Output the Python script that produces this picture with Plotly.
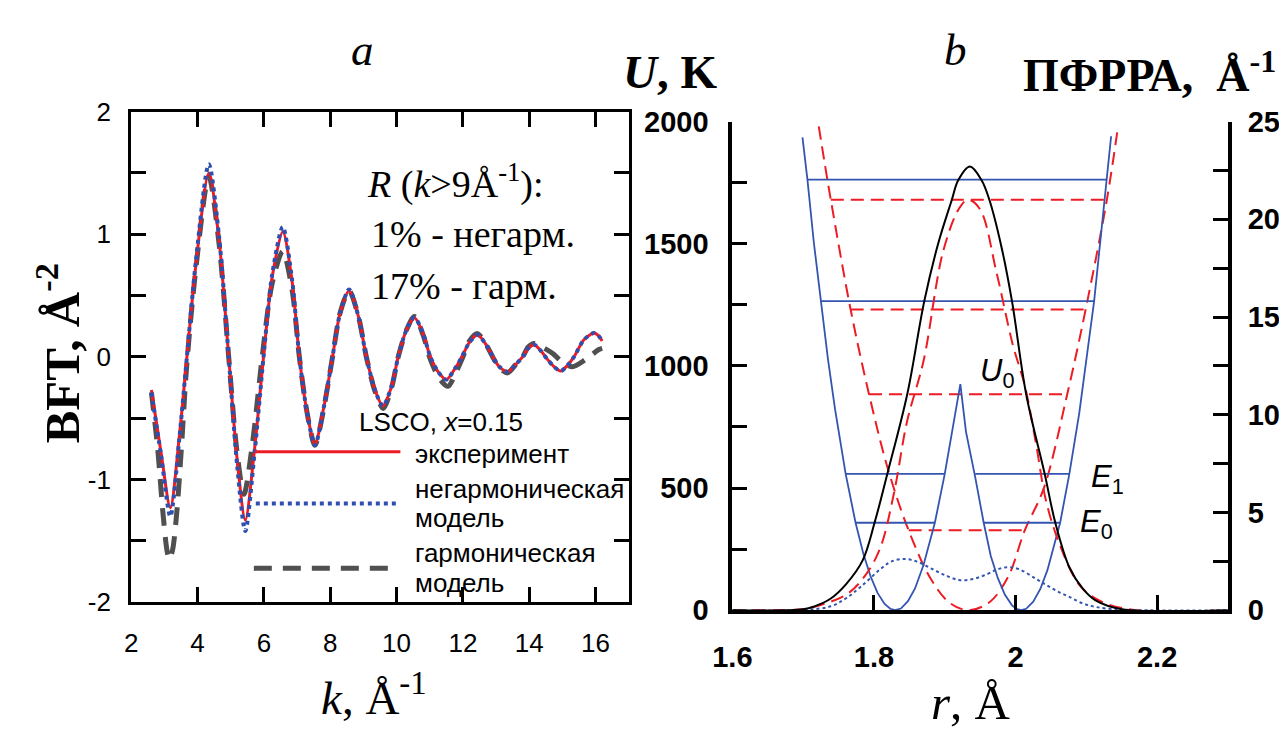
import plotly.graph_objects as go

# ---------------- data: panel a (BFT vs k) ----------------
k_exp = [2.61, 2.90, 3.18, 3.45, 3.68, 3.95, 4.34, 4.65, 4.94, 5.20, 5.44, 5.72, 5.99, 6.25, 6.57,
         6.85, 7.07, 7.30, 7.54, 7.80, 8.07, 8.30, 8.57, 8.85, 9.09, 9.35, 9.59, 9.85, 10.05, 10.30,
         10.54, 10.80, 11.02, 11.25, 11.50, 11.75, 11.97, 12.20, 12.44, 12.70, 12.90, 13.10, 13.35,
         13.60, 13.80, 13.97, 14.15, 14.35, 14.55, 14.75, 14.95, 15.15, 15.35, 15.65, 15.95, 16.10, 16.20]
bft_exp = [-0.27, -0.78, -1.23, -0.65, 0.0, 0.75, 1.50, 0.95, 0.0, -0.85, -1.33, -0.75, 0.0, 0.65, 1.02,
           0.62, 0.0, -0.45, -0.71, -0.42, 0.0, 0.36, 0.54, 0.33, 0.0, -0.27, -0.40, -0.24, 0.0, 0.22,
           0.32, 0.19, 0.0, -0.12, -0.185, -0.10, 0.0, 0.12, 0.18, 0.10, 0.0, -0.08, -0.12,
           -0.06, 0.0, 0.07, 0.10, 0.05, -0.02, -0.08, -0.115, -0.07, 0.0, 0.14, 0.195, 0.17, 0.13]
bft_anh = [-0.29, -0.80, -1.30, -0.67, 0.0, 0.78, 1.57, 0.98, 0.0, -0.90, -1.42, -0.78, 0.0, 0.67, 1.06,
           0.63, 0.0, -0.45, -0.72, -0.42, 0.0, 0.36, 0.55, 0.33, 0.0, -0.27, -0.40, -0.24, 0.0, 0.22,
           0.32, 0.19, 0.0, -0.12, -0.185, -0.10, 0.0, 0.12, 0.18, 0.10, 0.0, -0.08, -0.12,
           -0.06, 0.0, 0.07, 0.10, 0.05, -0.02, -0.08, -0.115, -0.07, 0.0, 0.14, 0.195, 0.17, 0.13]
k_harm = [2.61, 2.80, 2.95, 3.08, 3.15, 3.25, 3.38, 3.50, 3.68, 3.95, 4.34, 4.65, 4.94, 5.18, 5.40,
          5.65, 5.95, 6.25, 6.57, 6.85, 7.07, 7.30, 7.54, 7.80, 8.07, 8.30, 8.57, 8.85, 9.09, 9.35,
          9.60, 9.85, 10.05, 10.30, 10.54, 10.80, 11.02, 11.30, 11.55, 11.80, 12.00, 12.20, 12.44,
          12.70, 12.90, 13.10, 13.35, 13.60, 13.80, 13.97, 14.15, 14.40, 14.70, 14.95, 15.30, 15.70,
          16.10, 16.20]
bft_harm = [-0.29, -0.75, -1.25, -1.58, -1.65, -1.57, -1.25, -0.80, -0.05, 0.72, 1.47, 0.92, 0.0, -0.75, -1.12,
            -0.72, 0.0, 0.60, 0.86, 0.55, 0.0, -0.45, -0.72, -0.43, 0.0, 0.36, 0.54, 0.33, 0.0, -0.28,
            -0.42, -0.25, 0.0, 0.22, 0.33, 0.18, -0.02, -0.18, -0.24, -0.12, 0.0, 0.13, 0.19,
            0.10, 0.0, -0.09, -0.13, -0.06, 0.0, 0.08, 0.11, 0.08, 0.03, -0.03, -0.08, -0.02,
            0.06, 0.07]

k_ticks = [2, 4, 6, 8, 10, 12, 14, 16]
bft_ticks = [-2, -1, 0, 1, 2]
bft_ticktext = ["-2", "-1", "0", "1", "2"]
bft_minor_step = 0.5

# ---------------- data: panel b (potential and PDF vs r) ----------------
r_U_anh = [1.699, 1.706, 1.715, 1.725, 1.735, 1.745, 1.760, 1.774, 1.785, 1.795, 1.805, 1.815, 1.823,
           1.830, 1.838, 1.848, 1.858, 1.870, 1.886, 1.900, 1.912, 1.922,
           1.930, 1.943, 1.955, 1.965, 1.975, 1.985, 1.995, 2.001, 2.008, 2.015, 2.025, 2.035, 2.045,
           2.063, 2.076, 2.090, 2.111, 2.129, 2.135]
U_anh = [1935, 1762, 1506, 1262, 1028, 823, 558, 358, 231, 140, 71, 26, 6,
         0, 7, 37, 89, 185, 358, 558, 766, 925,
         730, 545, 358, 222, 131, 63, 20, 6, 0, 6, 35, 87, 164,
         358, 558, 807, 1265, 1762, 1940]
r_U_harm = [1.722, 1.739, 1.767, 1.793, 1.820, 1.849, 1.880, 1.907, 1.934, 1.964, 1.990, 2.013,
            2.040, 2.073, 2.099, 2.129, 2.145]
U_harm = [1980, 1680, 1231, 884, 575, 327, 130, 30, 0, 35, 140, 327,
          500, 884, 1231, 1680, 1985]

levels_anh_U = [1762, 1265, 558, 358]
levels_anh_r = [[(1.706, 2.129)], [(1.725, 2.111)],
                [(1.760, 1.900), (1.943, 2.076)], [(1.774, 1.886), (1.955, 2.063)]]
levels_harm_U = [1680, 1231, 884, 327]
levels_harm_r = [[(1.739, 2.129)], [(1.767, 2.099)], [(1.793, 2.073)], [(1.849, 2.013)]]

r_pdf_exp = [1.60, 1.70, 1.716, 1.739, 1.761, 1.784, 1.801, 1.819, 1.847, 1.871, 1.891, 1.910, 1.919,
             1.9355, 1.952, 1.963, 1.980, 1.995, 2.015, 2.041, 2.056, 2.076, 2.095, 2.113, 2.15, 2.30]
pdf_exp = [0, 0.05, 0.2, 0.6, 1.35, 2.55, 4.5, 7.0, 11.05, 15.8, 18.8, 21.0, 22.0,
           22.7, 22.0, 21.0, 18.6, 15.8, 11.05, 7.0, 4.5, 2.2, 1.1, 0.5, 0.05, 0]
r_pdf_anh = [1.60, 1.70, 1.739, 1.760, 1.781, 1.809, 1.825, 1.843, 1.860, 1.880, 1.900, 1.920, 1.940,
             1.960, 1.975, 1.990, 2.005, 2.029, 2.043, 2.060, 2.076, 2.095, 2.113, 2.15, 2.30]
pdf_anh = [0, 0.02, 0.2, 0.6, 1.19, 2.1, 2.5, 2.62, 2.5, 2.15, 1.8, 1.55, 1.6,
           1.85, 2.1, 2.2, 2.1, 1.6, 1.3, 0.95, 0.68, 0.35, 0.17, 0.03, 0]
r_pdf_harm = [1.60, 1.70, 1.716, 1.763, 1.790, 1.809, 1.828, 1.847, 1.870, 1.898, 1.921, 1.933, 1.950,
              1.973, 1.996, 2.013, 2.029, 2.043, 2.062, 2.090, 2.118, 2.16, 2.30]
pdf_harm = [0, 0.05, 0.17, 0.85, 1.9, 3.2, 5.95, 9.7, 12.75, 18.4, 20.6, 21.0, 20.5,
            17.3, 13.6, 11.5, 8.5, 5.6, 3.4, 1.3, 0.5, 0.05, 0]

r_tickvals = [1.6, 1.8, 2.0, 2.2]
r_ticktext = ["1.6", "1.8", "2", "2.2"]
U_ticks = [0, 500, 1000, 1500, 2000]
U_minor_step = 250
pdf_ticks = [0, 5, 10, 15, 20, 25]
pdf_minor_step = 2.5

# ---------------- styling helpers ----------------
PAGE_PAD = 8
W, H = 1279, 739
# empirical mapping between intended picture position and page position
SX, OX = 0.9873, 16.6
SY, OY = 0.9593, 14.5
FS = 1.03
SERIF = "Liberation Serif"
SANS = "Liberation Sans"
RED = "#ED1C24"
BLUE = "#3355B0"
DOTBLUE = "#2E4FB0"
GRAY = "#505050"


def fx(px):
    return ((px - OX) / SX - PAGE_PAD) / W


def fy(py):
    return 1 - ((py - OY) / SY - PAGE_PAD) / H


def fs(size):
    return round(size * FS)


fig = go.Figure()

# panel a curves
fig.add_trace(go.Scatter(x=k_harm, y=bft_harm, mode="lines", xaxis="x", yaxis="y",
                         line=dict(color=GRAY, width=5, dash="18px,11px", shape="spline", smoothing=0.8)))
fig.add_trace(go.Scatter(x=k_exp, y=bft_exp, mode="lines", xaxis="x", yaxis="y",
                         line=dict(color=RED, width=3, shape="spline", smoothing=0.8)))
fig.add_trace(go.Scatter(x=k_exp, y=bft_anh, mode="lines", xaxis="x", yaxis="y",
                         line=dict(color=DOTBLUE, width=4, dash="dot", shape="spline", smoothing=0.8)))


def level_xy(levels_U, levels_r):
    xs, ys = [], []
    for U, segs in zip(levels_U, levels_r):
        for r0, r1 in segs:
            xs += [r0, r1, None]
            ys += [U, U, None]
    return xs, ys


# panel b: harmonic model (red dashed)
lx, ly = level_xy(levels_harm_U, levels_harm_r)
fig.add_trace(go.Scatter(x=lx, y=ly, mode="lines", xaxis="x2", yaxis="y2",
                         line=dict(color=RED, width=2, dash="13px,7px")))
fig.add_trace(go.Scatter(x=r_U_harm, y=U_harm, mode="lines", xaxis="x2", yaxis="y2",
                         line=dict(color=RED, width=2, dash="13px,7px", shape="spline")))
fig.add_trace(go.Scatter(x=r_pdf_harm, y=pdf_harm, mode="lines", xaxis="x2", yaxis="y3",
                         line=dict(color=RED, width=2, dash="13px,7px", shape="spline")))
# anharmonic model (blue)
lx, ly = level_xy(levels_anh_U, levels_anh_r)
fig.add_trace(go.Scatter(x=lx, y=ly, mode="lines", xaxis="x2", yaxis="y2",
                         line=dict(color=BLUE, width=1.8)))
fig.add_trace(go.Scatter(x=r_U_anh, y=U_anh, mode="lines", xaxis="x2", yaxis="y2",
                         line=dict(color=BLUE, width=1.8)))
fig.add_trace(go.Scatter(x=r_pdf_anh, y=pdf_anh, mode="lines", xaxis="x2", yaxis="y3",
                         line=dict(color=BLUE, width=2, dash="dot", shape="spline")))
# experimental PDF (black)
fig.add_trace(go.Scatter(x=r_pdf_exp, y=pdf_exp, mode="lines", xaxis="x2", yaxis="y3",
                         line=dict(color="black", width=2, shape="spline")))

axis_common = dict(showgrid=False, zeroline=False, showline=True, linecolor="black",
                   ticks="inside", tickcolor="black", ticklen=15, tickwidth=3)


def minor(step):
    return dict(dtick=step, ticks="inside", ticklen=15, tickwidth=3, tickcolor="black", showgrid=False)


fig.update_layout(
    width=W, height=H, margin=dict(l=0, r=0, t=0, b=0),
    paper_bgcolor="white", plot_bgcolor="white", showlegend=False,
    xaxis=dict(**axis_common, domain=[fx(128), fx(627)], range=[2, 17], anchor="y",
               tickvals=k_ticks, linewidth=3, mirror="allticks",
               tickfont=dict(family=SANS, size=fs(25), color="black"), ticklabelstandoff=16),
    yaxis=dict(**axis_common, domain=[fy(602), fy(110)], range=[-2, 2], anchor="x",
               tickvals=bft_ticks, ticktext=bft_ticktext, minor=minor(bft_minor_step),
               linewidth=3, mirror="allticks",
               tickfont=dict(family=SANS, size=fs(25), color="black"), ticklabelstandoff=12),
    xaxis2=dict(**axis_common, domain=[fx(731), fx(1228)], range=[1.6, 2.3], anchor="y2",
                tickvals=r_tickvals, ticktext=r_ticktext, linewidth=4,
                tickfont=dict(family=SANS, size=fs(28), color="black", weight="bold"), ticklabelstandoff=18),
    yaxis2=dict(**axis_common, domain=[fy(610), fy(120)], range=[0, 2000], anchor="x2", side="left",
                tickvals=U_ticks, minor=minor(U_minor_step), linewidth=4,
                tickfont=dict(family=SANS, size=fs(28), color="black", weight="bold"), ticklabelstandoff=14),
    yaxis3=dict(**axis_common, range=[0, 25], anchor="x2", overlaying="y2", side="right",
                tickvals=pdf_ticks, minor=minor(pdf_minor_step), linewidth=4,
                tickfont=dict(family=SANS, size=fs(28), color="black", weight="bold"), ticklabelstandoff=10),
)


def ann(text, px, py, size, family=SERIF, xanchor="center", angle=0, bold=False, y=None, yanchor="middle"):
    fig.add_annotation(text=text, x=fx(px), y=fy(py) if y is None else y, xref="paper", yref="paper",
                       xanchor=xanchor, yanchor=yanchor, showarrow=False, textangle=angle, borderpad=0,
                       font=dict(family=family, size=fs(size), color="black",
                                 weight="bold" if bold else "normal"))


# panel labels and axis titles (a, b and r-title kept inside the drawable area)
ann("<i>a</i>", 360, 0, 44, y=1.0, yanchor="top")
ann("<i>b</i>", 955, 0, 44, y=1.0, yanchor="top")
ann("<i>U</i>, K", 668, 70, 46, bold=True)
ann("ПФРРА,&nbsp; Å<sup>-1</sup>", 1021, 70, 45, xanchor="left", bold=True)
ann("BFT, Å<sup>-2</sup>", 56, 352, 48, angle=-90, bold=True)
ann("<i>k</i>, Å<sup>-1</sup>", 372, 694, 46)
ann("<i>r</i>, Å", 970, 0, 48, y=0.0, yanchor="bottom")

# panel a inset text
ann("<i>R</i> (<i>k</i>&gt;9Å<sup>-1</sup>):", 364, 180, 37, xanchor="left")
ann("1% - негарм.", 368, 233, 37, xanchor="left")
ann("17% - гарм.", 368, 285, 37, xanchor="left")
ann("LSCO, <i>x</i>=0.15", 355, 421, 25, family=SANS, xanchor="left")
ann("эксперимент", 412, 453, 25, family=SANS, xanchor="left")
ann("негармоническая", 412, 488, 25, family=SANS, xanchor="left")
ann("модель", 412, 518, 25, family=SANS, xanchor="left")
ann("гармоническая", 412, 553, 25, family=SANS, xanchor="left")
ann("модель", 412, 583, 25, family=SANS, xanchor="left")

# legend samples
fig.add_shape(type="line", xref="paper", yref="paper", x0=fx(252), x1=fx(398), y0=fy(451), y1=fy(451),
              line=dict(color=RED, width=3))
fig.add_shape(type="line", xref="paper", yref="paper", x0=fx(253), x1=fx(396), y0=fy(503), y1=fy(503),
              line=dict(color=DOTBLUE, width=4, dash="dot"))
fig.add_shape(type="line", xref="paper", yref="paper", x0=fx(251), x1=fx(392), y0=fy(568), y1=fy(568),
              line=dict(color=GRAY, width=5, dash="18px,11px"))

# panel b labels
ann("<i>U</i><sub>0</sub>", 978, 372, 30, family=SANS, xanchor="left")
ann("<i>E</i><sub>1</sub>", 1090, 478, 30, family=SANS, xanchor="left")
ann("<i>E</i><sub>0</sub>", 1079, 524, 30, family=SANS, xanchor="left")

fig.write_html("out.html")
